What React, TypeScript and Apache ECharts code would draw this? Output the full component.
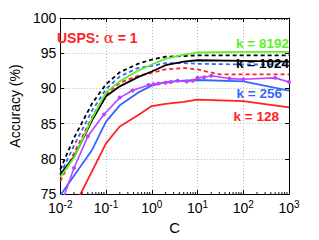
import React, { useEffect, useRef } from "react";
import * as echarts from "echarts";

const C_VALUES = [0.01, 0.02, 0.05, 0.1, 0.2, 0.5, 1, 2, 5, 10, 100, 1000];
const K8192 = [77.4, 80.2, 85.8, 89.4, 91.0, 92.5, 93.4, 94.2, 94.8, 95.1, 95.2, 95.2];
const K1024 = [77.8, 80.3, 85.5, 88.9, 90.3, 91.6, 92.4, 93.3, 93.8, 94.0, 93.9, 93.8];
const K256 = [74.8, 77.6, 81.3, 85.3, 87.6, 89.4, 90.4, 90.9, 91.1, 91.2, 91.0, 89.7];
const K128 = [70.5, 73.2, 78.3, 82.2, 84.6, 86.2, 87.5, 87.8, 88.1, 88.4, 88.2, 87.3];
const K1024_DASH = [78.5, 83.0, 87.9, 90.6, 92.3, 93.5, 94.1, 94.5, 94.6, 94.7, 94.7, 94.7];
const K256_DASH = [77.8, 81.9, 86.9, 89.9, 91.7, 92.9, 93.2, 93.6, 93.6, 93.5, 93.4, 93.4];
const RED_DASH_C = [0.01, 0.02, 0.05, 0.1, 0.2, 0.5, 1, 2, 5, 10, 30, 1000];
const K128_DASH = [76.8, 80.8, 86.0, 89.2, 90.8, 91.8, 92.2, 92.7, 92.9, 92.7, 92.0, 92.0];
const PURPLE_C = [0.01, 0.02, 0.04, 0.09, 0.2, 0.38, 0.85, 1.1, 1.4, 2, 2.6, 3.7, 5.8, 7.9, 10, 14, 20, 50, 100, 500, 1000];
const PURPLE = [73.2, 78.7, 83.2, 86.3, 88.7, 89.7, 90.5, 90.6, 90.7, 90.8, 90.9, 91.1, 91.0, 91.1, 91.5, 91.6, 91.8, 91.4, 91.3, 91.5, 90.9];
const MINOR_TICKS = [
  0.02, 0.03, 0.04, 0.05, 0.06, 0.07, 0.08, 0.09,
  0.2, 0.3, 0.4, 0.5, 0.6, 0.7, 0.8, 0.9,
  2, 3, 4, 5, 6, 7, 8, 9,
  20, 30, 40, 50, 60, 70, 80, 90,
  200, 300, 400, 500, 600, 700, 800, 900,
];

const FONT = "Liberation Sans, Arial, Helvetica, sans-serif";
const GREEN = "#5cf02a";
const RED = "#ff2222";
const BLUE = "#3366ff";
const BLACK = "#000000";
const PURPLE_COL = "#bb44ff";

const zip = (xs: number[], ys: number[]) => xs.map((x, i) => [x, ys[i]]);

export default function App() {
  const ref = useRef<HTMLDivElement>(null);
  useEffect(() => {
    if (!ref.current) return;
    const chart = echarts.init(ref.current, null, { renderer: "svg" });
    const line = (name: string, data: number[][], color: string, dashed: boolean, z: number) => ({
      name,
      type: "line",
      data,
      showSymbol: false,
      symbol: "none",
      lineStyle: { color, width: 1.8, type: dashed ? [4, 3] : "solid" },
      itemStyle: { color },
      z,
      clip: true,
    });
    const gridLine = { show: true, lineStyle: { color: "#b8b8b8", type: [1, 2], width: 1 } };
    chart.setOption({
      animation: false,
      grid: { left: 49, right: 30, top: 18, bottom: 40 },
      xAxis: [
        {
          type: "log",
          logBase: 10,
          min: 0.01,
          max: 1000,
          position: "bottom",
          axisLine: { lineStyle: { color: BLACK, width: 1 } },
          axisTick: { inside: true, length: 4, lineStyle: { color: BLACK } },
          splitLine: gridLine,
          name: "C",
          nameLocation: "middle",
          nameGap: 20,
          nameTextStyle: { fontFamily: FONT, fontSize: 15, color: BLACK },
          axisLabel: {
            margin: 5,
            formatter: (v: number) => `{b|10}{s|${Math.round(Math.log10(v))}}`,
            rich: {
              b: { fontFamily: FONT, fontSize: 14, color: BLACK },
              s: { fontFamily: FONT, fontSize: 10, color: BLACK, verticalAlign: "top", padding: [0, 0, 8, 0] },
            },
          },
        },
        {
          type: "log",
          logBase: 10,
          min: 0.01,
          max: 1000,
          position: "top",
          axisLine: { show: true, lineStyle: { color: BLACK, width: 1 } },
          axisTick: { show: true, inside: true, length: 4, lineStyle: { color: BLACK } },
          axisLabel: { show: false },
          splitLine: { show: false },
        },
      ],
      yAxis: [
        {
          type: "value",
          min: 75,
          max: 100,
          interval: 5,
          axisLine: { show: true, lineStyle: { color: BLACK, width: 1 } },
          axisTick: { show: true, inside: true, length: 4, lineStyle: { color: BLACK } },
          splitLine: gridLine,
          axisLabel: { fontFamily: FONT, fontSize: 14, color: BLACK, margin: 4 },
          name: "Accuracy (%)",
          nameLocation: "middle",
          nameGap: 27,
          nameTextStyle: { fontFamily: FONT, fontSize: 14, color: BLACK },
        },
        {
          type: "value",
          min: 75,
          max: 100,
          interval: 5,
          position: "right",
          axisLine: { show: true, lineStyle: { color: BLACK, width: 1 } },
          axisTick: { show: true, inside: true, length: 4, lineStyle: { color: BLACK } },
          axisLabel: { show: false },
          splitLine: { show: false },
        },
      ],
      series: [
        line("k128", zip(C_VALUES, K128), RED, false, 2),
        line("k256", zip(C_VALUES, K256), BLUE, false, 3),
        {
          name: "purple",
          type: "line",
          data: zip(PURPLE_C, PURPLE),
          symbol: "circle",
          symbolSize: 4,
          showSymbol: true,
          lineStyle: { color: PURPLE_COL, width: 1.6 },
          itemStyle: { color: PURPLE_COL },
          z: 4,
          clip: true,
        },
        line("k128d", zip(RED_DASH_C, K128_DASH), RED, true, 5),
        line("k256d", zip(C_VALUES, K256_DASH), BLUE, true, 6),
        line("k1024d", zip(C_VALUES, K1024_DASH), BLACK, true, 7),
        line("k1024", zip(C_VALUES, K1024), BLACK, false, 8),
        line("k8192", zip(C_VALUES, K8192), GREEN, false, 9),
        {
          type: "custom",
          data: MINOR_TICKS.map((v) => [v, 75]),
          clip: false,
          silent: true,
          z: 10,
          renderItem: (params: any, api: any) => {
            const v = api.value(0);
            const pb = api.coord([v, 75]);
            const pt = api.coord([v, 100]);
            const st = { stroke: BLACK, lineWidth: 1 };
            return {
              type: "group",
              children: [
                { type: "line", shape: { x1: pb[0], y1: pb[1], x2: pb[0], y2: pb[1] - 2 }, style: st },
                { type: "line", shape: { x1: pt[0], y1: pt[1], x2: pt[0], y2: pt[1] + 2 }, style: st },
              ],
            };
          },
        },
      ],
      graphic: [
        {
          type: "text",
          left: 57,
          top: 30,
          z: 20,
          style: {
            text: "{a|USPS: }{g|α}{a| = 1}",
            rich: {
              a: { fontFamily: FONT, fontSize: 14, fontWeight: "bold", fill: RED, color: RED },
              g: { fontFamily: "DejaVu Serif, serif", fontSize: 15, fill: RED, color: RED },
            },
          },
        },
        { type: "text", x: 289, y: 43, z: 20, style: { text: "k = 8192", fontFamily: FONT, fontSize: 13.5, fontWeight: "bold", fill: GREEN, align: "right", verticalAlign: "middle" } },
        { type: "text", x: 289, y: 63, z: 20, style: { text: "k = 1024", fontFamily: FONT, fontSize: 13.5, fontWeight: "bold", fill: BLACK, align: "right", verticalAlign: "middle" } },
        { type: "text", x: 282, y: 93, z: 20, style: { text: "k = 256", fontFamily: FONT, fontSize: 13.5, fontWeight: "bold", fill: BLUE, align: "right", verticalAlign: "middle" } },
        { type: "text", x: 279, y: 116, z: 20, style: { text: "k = 128", fontFamily: FONT, fontSize: 13.5, fontWeight: "bold", fill: RED, align: "right", verticalAlign: "middle" } },
      ],
    });
    return () => chart.dispose();
  }, []);
  return (
    <div
      ref={ref}
      style={{ position: "fixed", left: 0, top: 0, width: 319, height: 240, background: "#fff" }}
    />
  );
}
